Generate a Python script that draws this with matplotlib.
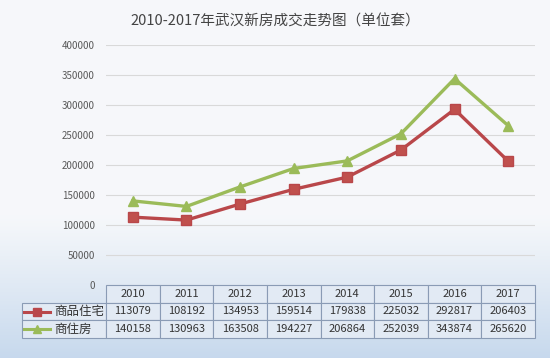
import numpy as np
import matplotlib.pyplot as plt
from matplotlib.lines import Line2D

plt.rcParams['font.family'] = ['Noto Sans CJK SC', 'DejaVu Sans']

# 数据
years = ['2010', '2011', '2012', '2013', '2014', '2015', '2016', '2017']
zhuzhai = [113079, 108192, 134953, 159514, 179838, 225032, 292817, 206403]
shangzhu = [140158, 130963, 163508, 194227, 206864, 252039, 343874, 265620]
series_names = ['商品住宅', '商住房']
yticks = [0, 50000, 100000, 150000, 200000, 250000, 300000, 350000, 400000]

red = '#b9474a'
green = '#9bbb59'

fig = plt.figure(figsize=(5.5, 3.58), dpi=100)

# 背景渐变
bg = fig.add_axes([0, 0, 1, 1], zorder=-10)
grad = np.linspace(0, 1, 256).reshape(-1, 1)
grad = np.clip((grad - 0.6) / 0.4, 0, 1) ** 1.1
c_top = np.array([0.965, 0.972, 0.982])
c_bot = np.array([0.78, 0.85, 0.93])
img = c_top[None, None, :] * (1 - grad[:, :, None]) + c_bot[None, None, :] * grad[:, :, None]
bg.imshow(img, aspect='auto', extent=[0, 1, 0, 1], origin='upper')
bg.axis('off')

ax = fig.add_axes([106 / 550, 1 - 285 / 358, 429 / 550, 240 / 358])
ax.set_facecolor('none')
x = np.arange(len(years))
ax.plot(x, zhuzhai, color=red, lw=2.4, marker='s', ms=6.5, mfc='#c0504d', mec=red, zorder=3)
ax.plot(x, shangzhu, color=green, lw=2.4, marker='^', ms=7.5, mfc=green, mec=green, zorder=3)

ax.set_xlim(-0.5, len(years) - 0.5)
ax.set_ylim(0, 400000)
ax.set_yticks(yticks)
ax.set_yticklabels([str(v) for v in yticks], fontsize=7, color='#595959')
ax.tick_params(axis='y', length=0, pad=8)
ax.set_xticks([])
ax.grid(axis='y', color='#d9d9d9', lw=0.8)
for s in ax.spines.values():
    s.set_visible(False)

fig.text(0.5, 1 - 22 / 358, '2010-2017年武汉新房成交走势图（单位套）',
         ha='center', va='center', fontsize=10.5, color='#444444')

# 数据表（第一列放图例）
cells = [[''] + [str(v) for v in zhuzhai], [''] + [str(v) for v in shangzhu]]
label_w = 84 / 53.6
tbl = ax.table(cellText=cells, colLabels=[''] + years, cellLoc='center',
               colWidths=[label_w] + [1] * len(years),
               bbox=[-84 / 429, -53 / 240, 1 + 84 / 429, 53 / 240])
tbl.auto_set_font_size(False)
for (r, c), cell in tbl.get_celld().items():
    cell.set_edgecolor('#8a9bb5')
    cell.set_linewidth(0.8)
    cell.set_facecolor('#e2eaf4')
    cell.get_text().set_fontsize(8)
    cell.get_text().set_color('#333333')
    if r == 0 and c == 0:
        cell.set_visible(False)

# 表中图例
for i, (name, col, mk) in enumerate([(series_names[0], red, 's'), (series_names[1], green, '^')]):
    yc = (285 - (311.5 + 17.5 * i)) / 240
    ax.add_line(Line2D([(24 - 106) / 429, (50 - 106) / 429], [yc, yc], color=col, lw=2.2,
                       transform=ax.transAxes, clip_on=False))
    ax.add_line(Line2D([(37 - 106) / 429], [yc], color=col, marker=mk, ms=5.5,
                       transform=ax.transAxes, clip_on=False))
    ax.text((54 - 106) / 429, yc, name, transform=ax.transAxes, ha='left', va='center',
            fontsize=9, color='#333333', zorder=5)

fig.savefig('out.png', dpi=100)
